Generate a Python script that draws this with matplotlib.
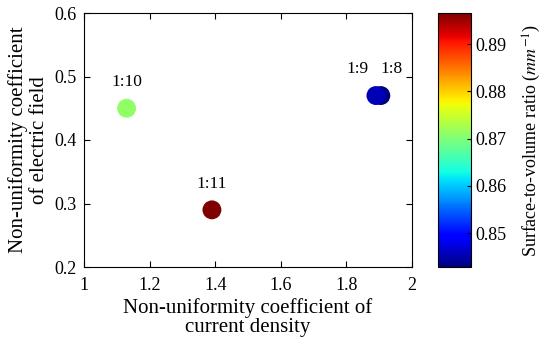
import matplotlib
matplotlib.use("Agg")
import matplotlib.pyplot as plt
from matplotlib.colors import Normalize

plt.rcParams['font.family'] = ['Liberation Serif', 'DejaVu Serif']
plt.rcParams['mathtext.fontset'] = 'stix'

# data
labels = ["1:8", "1:9", "1:10", "1:11"]
current_density = [1.905, 1.89, 1.13, 1.39]
electric_field = [0.47, 0.47, 0.45, 0.29]
sv_ratio = [0.8430, 0.8455, 0.8710, 0.8966]

x_ticks = [1, 1.2, 1.4, 1.6, 1.8, 2]
y_ticks = [0.2, 0.3, 0.4, 0.5, 0.6]
cb_ticks = [0.85, 0.86, 0.87, 0.88, 0.89]

fig = plt.figure(figsize=(5.5, 3.49), dpi=100)
ax = fig.add_axes([84/550, 1-267/349, 328/550, 254/349])
cax = fig.add_axes([438/550, 1-267/349, 33/550, 254/349])

norm = Normalize(vmin=0.8428, vmax=0.8966)
sc = ax.scatter(current_density, electric_field, c=sv_ratio, cmap='jet',
                norm=norm, s=185, edgecolors='none', zorder=3)

offsets = {"1:8": (8, 16), "1:9": (-13, 16), "1:10": (0, 16), "1:11": (0, 16)}
for lab, xv, yv in zip(labels, current_density, electric_field):
    dx, dy = offsets[lab]
    ax.annotate(lab, (xv, yv), xytext=(dx, dy), textcoords='offset points',
                ha='center', va='baseline', fontsize=12.5)

ax.set_xlim(1, 2)
ax.set_ylim(0.2, 0.6)
ax.set_xticks(x_ticks)
ax.set_xticklabels(["1", "1.2", "1.4", "1.6", "1.8", "2"])
ax.set_yticks(y_ticks)
ax.tick_params(direction='in', top=True, right=True, labelsize=13, length=4, width=0.8)
ax.tick_params(axis='x', pad=7)
ax.tick_params(axis='y', pad=5)
for sp in ax.spines.values():
    sp.set_linewidth(0.8)
ax.set_xlabel("Non-uniformity coefficient of\ncurrent density", fontsize=15,
              linespacing=1.05, labelpad=3)
ax.set_ylabel("Non-uniformity coefficient\nof electric field", fontsize=15, linespacing=1.15)

cb = fig.colorbar(sc, cax=cax, ticks=cb_ticks)
cb.ax.tick_params(direction='in', labelsize=13, length=3, width=0.8)
cb.outline.set_linewidth(0.8)
cb.set_label("Surface-to-volume ratio ($mm^{-1}$)", fontsize=13, labelpad=10)

fig.savefig("out.png", dpi=100)
